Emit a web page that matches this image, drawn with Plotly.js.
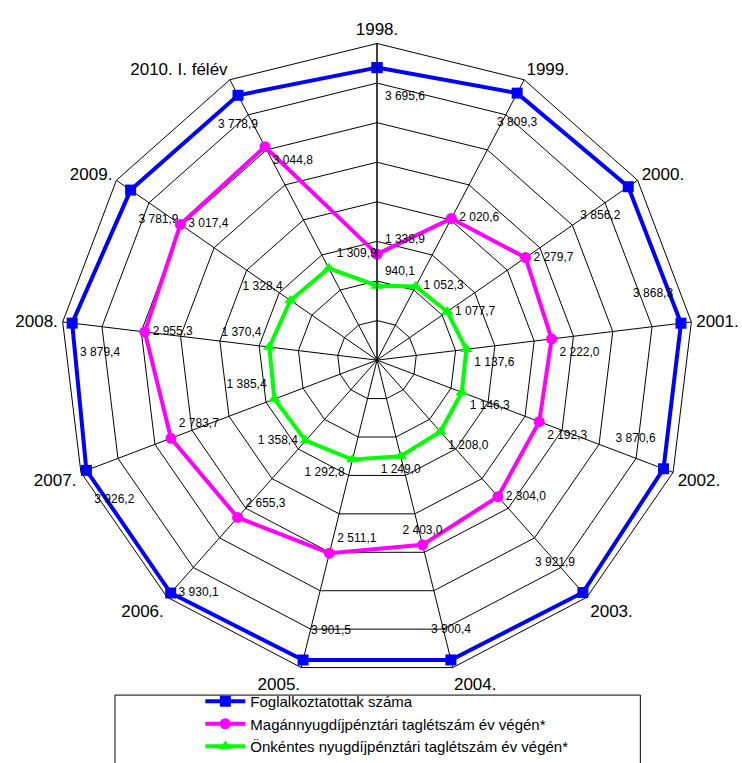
<!DOCTYPE html>
<html>
<head>
<meta charset="utf-8">
<script src="https://cdn.plot.ly/plotly-3.0.1.min.js"></script>
<style>
  html, body { margin: 0; padding: 0; background: #fff; }
  #radar { width: 742px; height: 763px; }
</style>
</head>
<body>
<div id="radar"></div>
<script>
var categories = ['1998.', '1999.', '2000.', '2001.', '2002.', '2003.', '2004.',
    '2005.', '2006.', '2007.', '2008.', '2009.', '2010. I. félév'];

var employed = [3695.6, 3809.3, 3856.2, 3868.3, 3870.6, 3921.9, 3900.4,
    3901.5, 3930.1, 3926.2, 3879.4, 3781.9, 3778.9];
var privateFund = [1338.9, 2020.6, 2279.7, 2222.0, 2192.3, 2304.0, 2403.0,
    2511.1, 2655.3, 2783.7, 2955.3, 3017.4, 3044.8];
var voluntaryFund = [940.1, 1052.3, 1077.7, 1137.6, 1146.3, 1208.0, 1249.0,
    1292.8, 1358.4, 1385.4, 1370.4, 1328.4, 1309.9];

var seriesNames = ['Foglalkoztatottak száma',
    'Magánnyugdíjpénztári taglétszám év végén*',
    'Önkéntes nyugdíjpénztári taglétszám év végén*'];

// hungarian number format: "3 695,6"
function huFormat(v) {
    let parts = v.toFixed(1).split('.');
    let intPart = parts[0].replace(/\B(?=(\d{3})+(?!\d))/g, ' ');
    return intPart + ',' + parts[1];
}

// close the polygon by repeating the first point
function closed(arr) {
    return arr.concat([arr[0]]);
}

var employedPos = ['bottom right', 'bottom center', 'bottom left', 'top left', 'top left',
    'top left', 'top center', 'top right', 'middle right', 'bottom right', 'bottom right',
    'bottom right', 'bottom center'];
var privatePos = ['top right', 'middle right', 'middle right', 'bottom right', 'bottom right',
    'middle right', 'top center', 'top right', 'top right', 'top right', 'middle right',
    'middle right', 'bottom right'];
var voluntaryPos = ['top right', 'middle right', 'middle right', 'bottom right', 'bottom right',
    'bottom right', 'bottom center', 'bottom left', 'middle left', 'top left', 'top left',
    'top left', 'top right'];

// extra empty line pushes a label further away from its marker
function padLabel(txt, pos, pad) {
    if (!pad) return txt;
    if (pos.indexOf('bottom') === 0) return '<br>' + txt;
    if (pos.indexOf('top') === 0) return txt + '<br>';
    return txt;
}

function makeTrace(values, name, color, symbol, positions, pad) {
    let labels = values.map(function (v, i) { return padLabel(huFormat(v), positions[i], pad); });
    labels.push('');
    return {
        type: 'scatterpolar',
        r: closed(values),
        theta: closed(categories),
        name: name,
        mode: 'lines+markers+text',
        text: labels,
        textposition: closed(positions),
        textfont: {family: 'Liberation Sans, Arial, sans-serif', size: 12, color: '#000'},
        line: {color: color, width: 4},
        marker: {color: color, symbol: symbol, size: 11},
        cliponaxis: false
    };
}

var plotData = [
    makeTrace(employed, seriesNames[0], '#0000ff', 'square', employedPos, true),
    makeTrace(privateFund, seriesNames[1], '#ff00ff', 'circle', privatePos, false),
    makeTrace(voluntaryFund, seriesNames[2], '#00ff00', 'triangle-up', voluntaryPos, false)
];

var layout = {
    width: 742,
    height: 763,
    margin: {l: 0, r: 0, t: 0, b: 0},
    paper_bgcolor: '#fff',
    font: {family: 'Liberation Sans, Arial, sans-serif', color: '#000'},
    showlegend: true,
    polar: {
        domain: {x: [0.0795, 0.9367], y: [0.113, 0.943]},
        bgcolor: '#fff',
        gridshape: 'linear',
        angularaxis: {
            type: 'category',
            categoryarray: categories,
            direction: 'clockwise',
            rotation: 90,
            showline: true,
            linecolor: '#000',
            linewidth: 1,
            gridcolor: '#000',
            gridwidth: 1,
            ticks: 'outside',
            ticklen: 1,
            tickcolor: 'rgba(0,0,0,0)',
            tickfont: {size: 17, color: '#000'}
        },
        radialaxis: {
            range: [0, 4000],
            dtick: 500,
            angle: 90,
            showticklabels: false,
            ticks: '',
            showline: true,
            linecolor: '#000',
            gridcolor: '#000',
            gridwidth: 1
        }
    },
    legend: {
        x: 0.27,
        xanchor: 'left',
        y: 0,
        yanchor: 'bottom',
        bgcolor: 'rgba(0,0,0,0)',
        font: {size: 15, color: '#000'},
        itemwidth: 40,
        tracegroupgap: 0
    },
    shapes: [{
        type: 'rect',
        xref: 'paper', yref: 'paper',
        x0: 0.155, x1: 0.863, y0: -0.01, y1: 0.089,
        line: {color: '#000', width: 1}
    }]
};

Plotly.newPlot('radar', plotData, layout, {displayModeBar: false});
</script>
</body>
</html>
